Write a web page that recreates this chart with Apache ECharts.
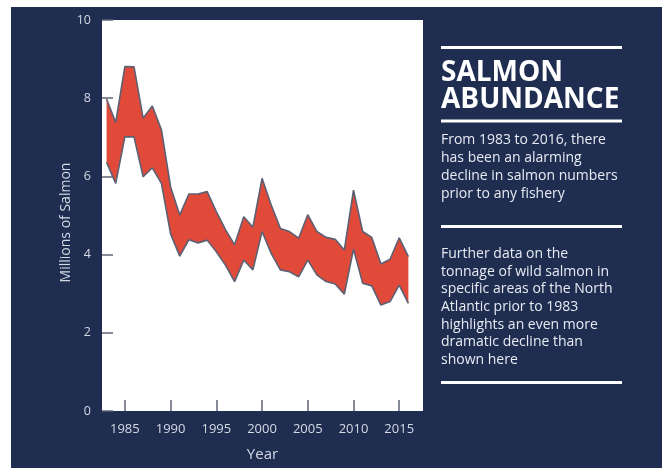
<!DOCTYPE html>
<html>
<head>
<meta charset="utf-8">
<script src="https://cdn.jsdelivr.net/npm/echarts@6/dist/echarts.min.js"></script>
<style>
  html, body { margin: 0; padding: 0; background: #ffffff; }
  #bg { position: absolute; left: 11px; top: 7px; width: 651px; height: 461px; background: #1f2d51; }
  #chart { position: absolute; left: 0; top: 0; width: 662px; height: 468px; }
</style>
</head>
<body>
<div id="bg"></div>
<div id="chart"></div>
<script>
const years = [1983,1984,1985,1986,1987,1988,1989,1990,1991,1992,1993,1994,1995,1996,1997,1998,1999,2000,2001,2002,2003,2004,2005,2006,2007,2008,2009,2010,2011,2012,2013,2014,2015,2016];
const upperValues = [7.98,7.38,8.81,8.80,7.49,7.80,7.19,5.73,5.01,5.55,5.55,5.61,5.10,4.64,4.25,4.97,4.70,5.95,5.27,4.67,4.59,4.42,5.02,4.59,4.44,4.39,4.12,5.65,4.59,4.44,3.76,3.88,4.43,3.95];
const lowerValues = [6.36,5.82,7.01,7.01,5.99,6.22,5.82,4.53,3.96,4.38,4.30,4.37,4.07,3.73,3.31,3.86,3.61,4.59,4.03,3.61,3.56,3.43,3.86,3.48,3.31,3.25,2.99,4.14,3.27,3.20,2.71,2.80,3.22,2.75];
const xTickYears = [1985,1990,1995,2000,2005,2010,2015];
const titleLines = ['SALMON', 'ABUNDANCE'];
const paragraph1 = ['From 1983 to 2016, there', 'has been an alarming', 'decline in salmon numbers', 'prior to any fishery'];
const paragraph2 = ['Further data on the', 'tonnage of wild salmon in', 'specific areas of the North', 'Atlantic prior to 1983', 'highlights an even more', 'dramatic decline than', 'shown here'];
const yAxisTitle = 'Millions of Salmon';
const xAxisTitle = 'Year';

const upperData = years.map((y, i) => [y, upperValues[i]]);
const lowerData = years.map((y, i) => [y, lowerValues[i]]);
const bandData = years.map((y, i) => [y, lowerValues[i], upperValues[i]]);

const FONT = '"Open Sans", "Noto Sans", sans-serif';
const labelColor = '#d5d9e3';
const tickColor = '#5f6478';
const edgeColor = '#5c6074';

function renderBand(params, api) {
  if (params.dataIndex !== 0) return null;
  const pts = [];
  for (let i = 0; i < years.length; i++) pts.push(api.coord([years[i], upperValues[i]]));
  for (let i = years.length - 1; i >= 0; i--) pts.push(api.coord([years[i], lowerValues[i]]));
  return { type: 'polygon', shape: { points: pts }, style: { fill: '#e14a38', stroke: null } };
}

const chart = echarts.init(document.getElementById('chart'), null, { renderer: 'canvas' });
chart.setOption({
  animation: false,
  backgroundColor: 'transparent',
  grid: { left: 102, top: 20, right: 239, bottom: 57, show: true, backgroundColor: '#ffffff', borderWidth: 0 },
  xAxis: {
    type: 'value',
    min: 1982.5,
    max: 2017.6,
    z: 10,
    name: xAxisTitle,
    nameLocation: 'middle',
    nameGap: 36,
    nameTextStyle: { color: labelColor, fontFamily: FONT, fontSize: 15 },
    axisLine: { show: false },
    splitLine: { show: false },
    axisTick: { show: true, inside: true, length: 11, customValues: xTickYears, lineStyle: { color: tickColor, width: 1.5 } },
    axisLabel: { show: true, customValues: xTickYears, color: labelColor, fontFamily: FONT, fontSize: 13, margin: 12, formatter: v => String(v) }
  },
  yAxis: {
    type: 'value',
    min: 0,
    max: 10,
    interval: 2,
    z: 10,
    name: yAxisTitle,
    nameLocation: 'middle',
    nameGap: 29,
    nameRotate: 90,
    nameTextStyle: { color: labelColor, fontFamily: FONT, fontSize: 14, padding: [0, 14, 0, 0] },
    axisLine: { show: false },
    splitLine: { show: false },
    axisTick: { show: true, inside: true, length: 11, lineStyle: { color: tickColor, width: 1.5 } },
    axisLabel: { color: labelColor, fontFamily: FONT, fontSize: 12.5, margin: 11 }
  },
  series: [
    {
      name: 'band',
      type: 'custom',
      coordinateSystem: 'cartesian2d',
      data: bandData,
      encode: { x: 0, y: [1, 2] },
      renderItem: renderBand,
      z: 2,
      silent: true
    },
    {
      name: 'upper',
      type: 'line',
      data: upperData,
      showSymbol: false,
      symbol: 'none',
      z: 3,
      lineStyle: { color: edgeColor, width: 1.6 }
    },
    {
      name: 'lower',
      type: 'line',
      data: lowerData,
      showSymbol: false,
      symbol: 'none',
      z: 3,
      lineStyle: { color: edgeColor, width: 1.6 }
    }
  ],
  graphic: [
    { type: 'rect', shape: { x: 441, y: 46, width: 181, height: 3 }, style: { fill: '#ffffff' } },
    { type: 'text', x: 441, y: 73, style: { text: titleLines[0], fill: '#ffffff', font: 'bold 28px ' + FONT, verticalAlign: 'middle', align: 'left' } },
    { type: 'text', x: 441, y: 100, style: { text: titleLines[1], fill: '#ffffff', font: 'bold 28px ' + FONT, verticalAlign: 'middle', align: 'left' } },
    { type: 'rect', shape: { x: 441, y: 119.5, width: 181, height: 3 }, style: { fill: '#ffffff' } },
    { type: 'text', x: 441, y: 131.5, style: { text: paragraph1.join('\n'), fill: '#e8ebf2', font: '14px ' + FONT, lineHeight: 17.8, verticalAlign: 'top', align: 'left' } },
    { type: 'rect', shape: { x: 441, y: 225, width: 181, height: 3 }, style: { fill: '#ffffff' } },
    { type: 'text', x: 441, y: 245, style: { text: paragraph2.join('\n'), fill: '#e8ebf2', font: '14px ' + FONT, lineHeight: 17.7, verticalAlign: 'top', align: 'left' } },
    { type: 'rect', shape: { x: 441, y: 381, width: 181, height: 3 }, style: { fill: '#ffffff' } }
  ]
});
</script>
</body>
</html>
